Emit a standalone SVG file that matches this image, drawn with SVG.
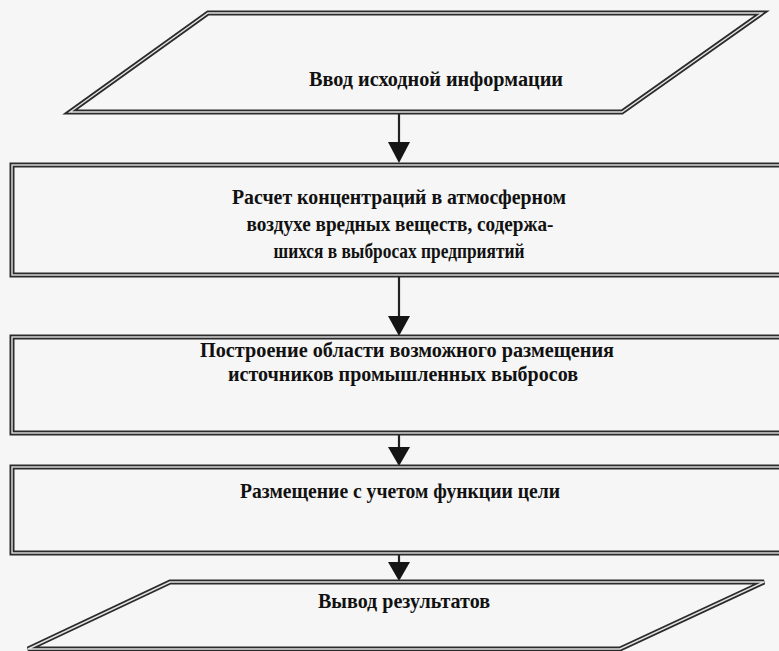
<svg xmlns="http://www.w3.org/2000/svg" width="779" height="651" viewBox="0 0 779 651">
<defs>
<style>
.bg{fill:#f6f6f6}
.outer{fill:none;stroke:#2b2b2b;stroke-width:5;stroke-linejoin:miter}
.inner{fill:none;stroke:#e2e2e2;stroke-width:1.4;stroke-linejoin:miter}
.line{stroke:#222;stroke-width:2.2;fill:none}
.t{font-family:"Liberation Serif","Times New Roman",serif;font-weight:bold;font-size:21px;fill:#111}
</style>
</defs>
<rect class="bg" x="0" y="0" width="779" height="651"/>

<g id="connectors">
<line class="line" x1="399" y1="112" x2="399" y2="142"/>
<path d="M388,142 L410,142 L399,163 Z" fill="#151515"/>
<line class="line" x1="399" y1="275" x2="399" y2="316"/>
<path d="M388,316 L410,316 L399,336 Z" fill="#151515"/>
<line class="line" x1="399" y1="433" x2="399" y2="447"/>
<path d="M388,447 L410,447 L399,466 Z" fill="#151515"/>
<line class="line" x1="399" y1="553" x2="399" y2="562"/>
<path d="M388,562 L410,562 L399,581 Z" fill="#151515"/>
</g>

<g id="n1">
<path class="outer" d="M208,13 L762,13 L622,112 L70,112 Z"/>
<path class="inner" d="M208,13 L762,13 L622,112 L70,112 Z"/>
<text class="t" x="436" y="86" text-anchor="middle" textLength="254" lengthAdjust="spacingAndGlyphs">Ввод исходной информации</text>
</g>

<g id="n2">
<rect class="outer" x="12" y="165" width="790" height="110"/>
<rect class="inner" x="12" y="165" width="790" height="110"/>
<text class="t" x="399" y="204" text-anchor="middle" textLength="334" lengthAdjust="spacingAndGlyphs">Расчет концентраций в атмосферном</text>
<text class="t" x="400" y="231" text-anchor="middle" textLength="307" lengthAdjust="spacingAndGlyphs">воздухе  вредных веществ, содержа-</text>
<text class="t" x="399" y="258" text-anchor="middle" textLength="251" lengthAdjust="spacingAndGlyphs">шихся в выбросах предприятий</text>
</g>

<g id="n3">
<rect class="outer" x="12" y="337" width="790" height="96"/>
<rect class="inner" x="12" y="337" width="790" height="96"/>
<text class="t" x="407" y="357" text-anchor="middle" textLength="414" lengthAdjust="spacingAndGlyphs">Построение области возможного размещения</text>
<text class="t" x="403" y="381" text-anchor="middle" textLength="350" lengthAdjust="spacingAndGlyphs">источников промышленных выбросов</text>
</g>

<g id="n4">
<rect class="outer" x="12" y="467" width="790" height="86"/>
<rect class="inner" x="12" y="467" width="790" height="86"/>
<text class="t" x="400" y="498" text-anchor="middle" textLength="320" lengthAdjust="spacingAndGlyphs">Размещение с учетом функции цели</text>
</g>

<g id="n5">
<path class="outer" d="M170,582 L764,582 L620,649 L28,649 Z"/>
<path class="inner" d="M170,582 L764,582 L620,649 L28,649 Z"/>
<text class="t" x="404" y="608" text-anchor="middle" textLength="172" lengthAdjust="spacingAndGlyphs">Вывод результатов</text>
</g>
</svg>
